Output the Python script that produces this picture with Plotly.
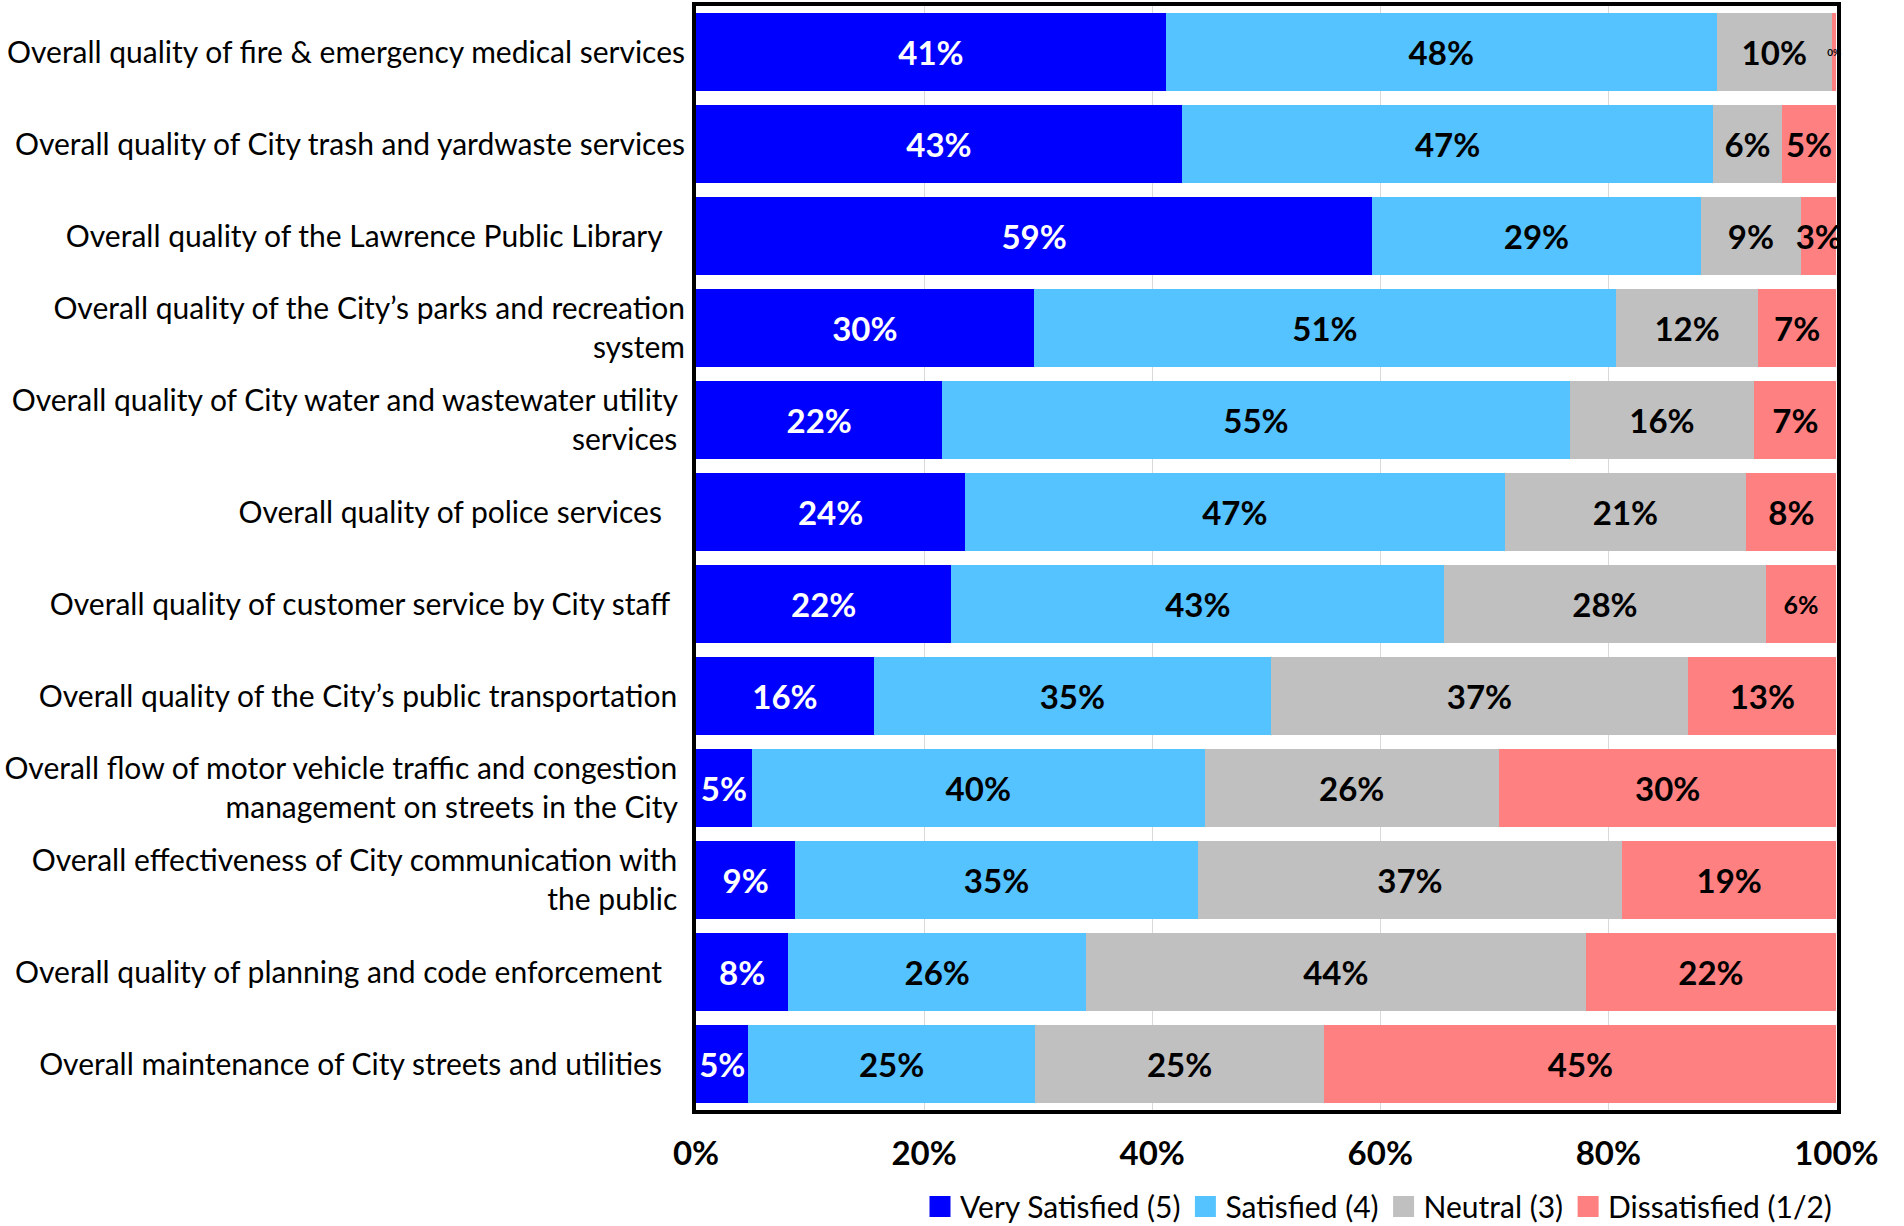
import plotly.graph_objects as go

NB = "\u00a0"
categories = [
    "Overall quality of fire & emergency medical services",
    "Overall quality of City trash and yardwaste services",
    "Overall quality of the Lawrence Public Library" + NB * 3,
    "Overall quality of the City\u2019s parks and recreation<br>system",
    "Overall quality of City water and wastewater utility" + NB + "<br>services" + NB,
    "Overall quality of police services" + NB * 3,
    "Overall quality of customer service by City staff" + NB * 2,
    "Overall quality of the City\u2019s public transportation" + NB,
    "Overall flow of motor vehicle traffic and congestion" + NB + "<br>management on streets in the City" + NB,
    "Overall effectiveness of City communication with" + NB + "<br>the public" + NB,
    "Overall quality of planning and code enforcement" + NB * 3,
    "Overall maintenance of City streets and utilities" + NB * 3,
]

very_satisfied = [41.2, 42.6, 59.3, 29.6, 21.6, 23.6, 22.4, 15.6, 4.9, 8.7, 8.1, 4.6]
satisfied      = [48.3, 46.6, 28.8, 51.1, 55.0, 47.3, 43.2, 34.8, 39.7, 35.3, 26.1, 25.1]
neutral        = [10.1, 6.0, 8.8, 12.4, 16.2, 21.2, 28.2, 36.6, 25.8, 37.2, 43.8, 25.4]
dissatisfied   = [0.4, 4.8, 3.1, 6.9, 7.2, 7.9, 6.2, 13.0, 29.6, 18.8, 22.0, 44.9]

series_names = ["Very Satisfied (5)", "Satisfied (4)", "Neutral (3)", "Dissatisfied (1/2)"]
series_values = [very_satisfied, satisfied, neutral, dissatisfied]
colors = ["#0000FF", "#55C3FF", "#C0C0C0", "#FF8080"]
text_colors = ["white", "black", "black", "black"]

x_ticks = [0, 20, 40, 60, 80, 100]

FONT = "Lato"
BASE_SIZE = 33

fig = go.Figure()
for name, vals, col, tcol in zip(series_names, series_values, colors, text_colors):
    sizes = []
    for v in vals:
        if v < 1:
            sizes.append(10)
        elif name.startswith("Dissatisfied") and 5.5 < v < 6.5:
            sizes.append(25)
        else:
            sizes.append(BASE_SIZE)
    fig.add_trace(go.Bar(
        y=categories, x=vals, name=name, orientation="h",
        marker=dict(color=col, line=dict(width=0)),
        text=[f"{int(v + 0.5)}%" for v in vals],
        textposition="inside", insidetextanchor="middle",
        textangle=0, constraintext="none",
        textfont=dict(family=FONT, size=sizes, color=tcol, weight="bold"),
        cliponaxis=False, showlegend=False,
    ))

# legend entries (square swatches)
for name, col in zip(series_names, colors):
    fig.add_trace(go.Scatter(
        x=[None], y=[None], mode="markers", name=name,
        marker=dict(symbol="square", size=16, color=col, line=dict(width=5, color=col)),
        showlegend=True,
    ))

fig.update_layout(
    barmode="stack", bargap=0.145,
    width=1904, height=1226,
    margin=dict(l=696, r=67, t=6, b=116, autoexpand=False),
    plot_bgcolor="white", paper_bgcolor="white",
    font=dict(family=FONT, color="black"),
    legend=dict(orientation="h", xref="paper", x=1.0, xanchor="right",
                yref="container", y=0.016, yanchor="middle",
                font=dict(family=FONT, size=30, color="black"),
                itemwidth=30, itemsizing="trace", traceorder="normal",
                tracegroupgap=0),
    showlegend=True,
)
fig.update_xaxes(
    range=[0, 100.05], tickvals=x_ticks, ticktext=[f"{t}%" for t in x_ticks],
    showgrid=True, gridcolor="#D9D9D9", gridwidth=1, zeroline=False,
    showline=True, linecolor="black", linewidth=4, mirror=True,
    ticks="", ticklabelstandoff=11, automargin=False,
    tickfont=dict(family=FONT, size=33, color="black", weight="bold"),
)
fig.update_yaxes(
    autorange="reversed", type="category",
    showline=True, linecolor="black", linewidth=4, mirror=True,
    ticks="", ticklabelstandoff=1, showgrid=False, automargin=False,
    tickfont=dict(family=FONT, size=30, color="black"),
)

fig.write_html("out.html", config={"displayModeBar": False},
               post_script="document.body.style.margin='0';")
